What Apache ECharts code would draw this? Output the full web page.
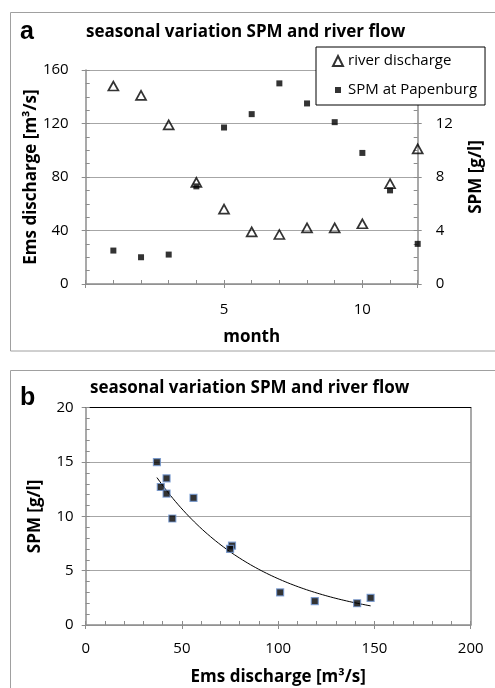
<!DOCTYPE html>
<html>
<head>
<meta charset="utf-8">
<script src="https://cdn.jsdelivr.net/npm/echarts@6/dist/echarts.min.js"></script>
<style>
html,body{margin:0;padding:0;background:#fff;}
#chart{width:495px;height:688px;}
</style>
</head>
<body>
<div id="chart"></div>
<script>
// ---- data ----
const months = [1, 2, 3, 4, 5, 6, 7, 8, 9, 10, 11, 12];
const discharge = [148, 141, 119, 76, 56, 39, 37, 42, 42, 45, 75, 101];   // m³/s
const spm = [2.5, 2.0, 2.2, 7.3, 11.7, 12.7, 15.0, 13.5, 12.1, 9.8, 7.0, 3.0]; // g/l
const monthTickLabels = [5, 10];
const dischargeTicks = [0, 40, 80, 120, 160];
const spmRightTicks = [0, 4, 8, 12];
const seriesNames = ['river discharge', 'SPM at Papenburg'];
const titleText = 'seasonal variation SPM and river flow';

// exponential trend line (least squares on ln y), like a spreadsheet trendline
function expFit(xs, ys) {
  const n = xs.length;
  const ly = ys.map(Math.log);
  const mx = xs.reduce((a, b) => a + b, 0) / n;
  const my = ly.reduce((a, b) => a + b, 0) / n;
  let sxy = 0, sxx = 0;
  for (let i = 0; i < n; i++) { sxy += (xs[i] - mx) * (ly[i] - my); sxx += (xs[i] - mx) ** 2; }
  const b = sxy / sxx;
  const a = Math.exp(my - b * mx);
  return x => a * Math.exp(b * x);
}
const fit = expFit(discharge, spm);
const xMin = Math.min(...discharge), xMax = Math.max(...discharge);
const trend = [];
for (let k = 0; k <= 80; k++) { const x = xMin + (xMax - xMin) * k / 80; trend.push([x, fit(x)]); }

const FONT = 'Open Sans';
const GRAY = '#8c8c8c';
const GRID = '#a6a6a6';
const nameStyle = { fontFamily: FONT, fontWeight: 'bold', fontSize: 17, color: '#000' };
const labStyle = { fontFamily: FONT, fontSize: 15, color: '#000' };

function innerAxis(extra) {
  return Object.assign({
    type: 'value', axisLine: { show: false, onZero: false },
    axisTick: { show: true, inside: true, length: 4, lineStyle: { color: GRAY } },
    axisLabel: { show: false }, splitLine: { show: false }
  }, extra);
}

const chart = echarts.init(document.getElementById('chart'), null, { renderer: 'canvas' });
chart.setOption({
  animation: false,
  backgroundColor: '#fff',
  graphic: [
    { type: 'rect', shape: { x: 10.5, y: 12.5, width: 520, height: 338.5 }, style: { fill: 'none', stroke: '#a0a0a0', lineWidth: 1 }, z: -1 },
    { type: 'rect', shape: { x: 10.5, y: 370.5, width: 520, height: 400 }, style: { fill: 'none', stroke: '#a0a0a0', lineWidth: 1 }, z: -1 },
    { type: 'text', style: { text: 'a', x: 20, y: 32, font: 'bold 25px "Liberation Sans"', textVerticalAlign: 'middle', fill: '#000' } },
    { type: 'text', style: { text: 'b', x: 20, y: 398, font: 'bold 25px "Liberation Sans"', textVerticalAlign: 'middle', fill: '#000' } },
    { type: 'text', style: { text: titleText, x: 86, y: 32, font: 'bold 17px "Open Sans"', textVerticalAlign: 'middle', fill: '#000' } },
    { type: 'text', style: { text: titleText, x: 90, y: 388, font: 'bold 17px "Open Sans"', textVerticalAlign: 'middle', fill: '#000' } }
  ],
  legend: {
    left: 316, top: 47, orient: 'vertical',
    backgroundColor: '#fff', borderColor: '#000', borderWidth: 1,
    padding: [4, 8, 5, 16], itemGap: 9, itemWidth: 10, itemHeight: 10,
    textStyle: { fontFamily: FONT, fontSize: 15, color: '#000', lineHeight: 20 },
    data: [
      { name: seriesNames[0], icon: 'triangle' },
      { name: seriesNames[1], icon: 'path://M0,0M10,10M2,2h6v6h-6z' }
    ],
    z: 10
  },
  grid: [
    { left: 85.7, top: 70, width: 332, height: 214 },
    { left: 85.7, top: 407.7, width: 385, height: 217.3 }
  ],
  xAxis: [
    { type: 'value', gridIndex: 0, position: 'bottom', min: 0, max: 12, interval: 5,
      axisLine: { onZero: false, lineStyle: { color: GRAY, width: 1.5 } },
      axisTick: { show: true, inside: false, length: 4, lineStyle: { color: GRAY } },
      axisLabel: Object.assign({ margin: 18, formatter: v => monthTickLabels.includes(v) ? String(v) : '' }, labStyle),
      splitLine: { show: false },
      name: 'month', nameLocation: 'middle', nameGap: 45, nameMoveOverlap: false, nameTextStyle: nameStyle },
    innerAxis({ gridIndex: 0, position: 'bottom', min: 0, max: 12, interval: 1 }),
    { type: 'value', gridIndex: 1, position: 'bottom', min: 0, max: 200, interval: 50,
      axisLine: { onZero: false, lineStyle: { color: GRAY, width: 1.5 } },
      axisTick: { show: true, inside: false, length: 4, lineStyle: { color: GRAY } },
      axisLabel: Object.assign({ margin: 16 }, labStyle),
      splitLine: { show: false },
      name: 'Ems discharge [m³/s]', nameLocation: 'middle', nameGap: 44, nameMoveOverlap: false, nameTextStyle: nameStyle },
    innerAxis({ gridIndex: 1, position: 'bottom', min: 0, max: 200, interval: 10 }),
    { type: 'value', gridIndex: 1, position: 'top', min: 0, max: 200,
      axisLine: { show: true, onZero: false, lineStyle: { color: '#000', width: 1.2 } },
      axisTick: { show: false }, axisLabel: { show: false }, splitLine: { show: false } }
  ],
  yAxis: [
    { type: 'value', gridIndex: 0, position: 'left', min: 0, max: 160, interval: 40,
      axisLine: { show: true, onZero: false, lineStyle: { color: GRAY, width: 1.5 } },
      axisTick: { show: true, inside: false, length: 4, lineStyle: { color: GRAY } },
      axisLabel: Object.assign({ margin: 17, formatter: v => dischargeTicks.includes(v) ? String(v) : '' }, labStyle),
      splitLine: { show: true, lineStyle: { color: GRID, width: 1 } },
      name: 'Ems discharge [m³/s]', nameLocation: 'middle', nameRotate: 90, nameGap: 46, nameMoveOverlap: false, nameTextStyle: nameStyle },
    { type: 'value', gridIndex: 0, position: 'right', min: 0, max: 16, interval: 4,
      axisLine: { show: true, onZero: false, lineStyle: { color: GRAY, width: 1.5 } },
      axisTick: { show: true, inside: false, length: 4, lineStyle: { color: GRAY } },
      axisLabel: Object.assign({ margin: 18, formatter: v => spmRightTicks.includes(v) ? String(v) : '' }, labStyle),
      splitLine: { show: false },
      name: 'SPM [g/l]', nameLocation: 'middle', nameRotate: 90, nameGap: 50, nameMoveOverlap: false, nameTextStyle: nameStyle },
    innerAxis({ gridIndex: 0, position: 'left', min: 0, max: 160, interval: 10 }),
    innerAxis({ gridIndex: 0, position: 'right', min: 0, max: 16, interval: 1 }),
    { type: 'value', gridIndex: 1, position: 'left', min: 0, max: 20, interval: 5,
      axisLine: { show: true, onZero: false, lineStyle: { color: GRAY, width: 1.5 } },
      axisTick: { show: true, inside: false, length: 4, lineStyle: { color: GRAY } },
      axisLabel: Object.assign({ margin: 12 }, labStyle),
      splitLine: { show: true, lineStyle: { color: GRID, width: 1 } },
      name: 'SPM [g/l]', nameLocation: 'middle', nameRotate: 90, nameGap: 42, nameMoveOverlap: false, nameTextStyle: nameStyle },
    innerAxis({ gridIndex: 1, position: 'left', min: 0, max: 20, interval: 1 }),
    { type: 'value', gridIndex: 1, position: 'right', min: 0, max: 20,
      axisLine: { show: true, onZero: false, lineStyle: { color: GRAY, width: 1.5 } },
      axisTick: { show: false }, axisLabel: { show: false }, splitLine: { show: false } }
  ],
  series: [
    { name: seriesNames[1], type: 'scatter', xAxisIndex: 0, yAxisIndex: 1,
      data: months.map((m, i) => [m, spm[i]]),
      symbol: 'rect', symbolSize: 6, itemStyle: { color: '#000' }, z: 2 },
    { name: seriesNames[0], type: 'scatter', xAxisIndex: 0, yAxisIndex: 0,
      data: months.map((m, i) => [m, discharge[i]]),
      symbol: 'triangle', symbolSize: [10, 9],
      itemStyle: { color: 'rgba(255,255,255,0)', borderColor: '#000', borderWidth: 1.7 }, z: 3 },
    { name: 'SPM vs discharge', type: 'scatter', xAxisIndex: 2, yAxisIndex: 4,
      data: discharge.map((d, i) => [d, spm[i]]),
      symbol: 'rect', symbolSize: 7,
      itemStyle: { color: '#000', borderColor: '#6f95cf', borderWidth: 1.2 }, z: 3 },
    { name: 'trend', type: 'line', xAxisIndex: 2, yAxisIndex: 4, data: trend,
      showSymbol: false, symbol: 'none', smooth: false,
      lineStyle: { color: '#000', width: 1 }, z: 2 }
  ]
});
</script>
</body>
</html>
